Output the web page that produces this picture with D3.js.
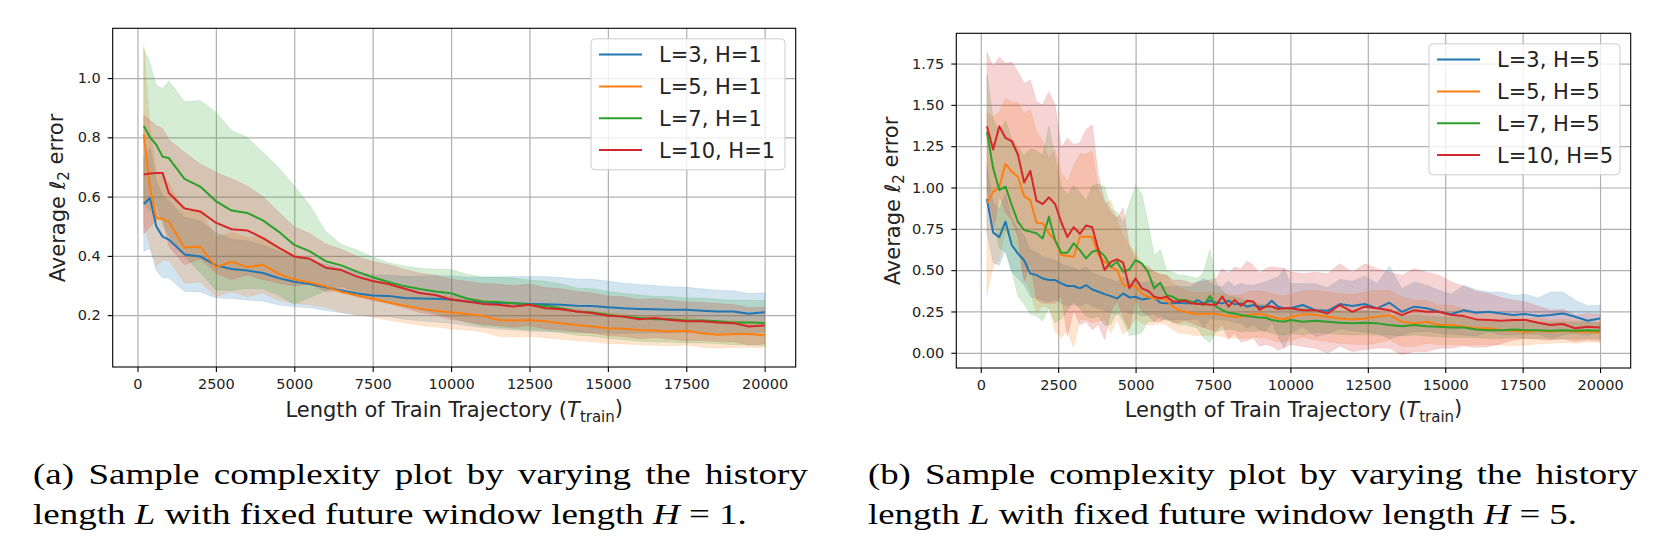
<!DOCTYPE html>
<html>
<head>
<meta charset="utf-8">
<script src="https://cdnjs.cloudflare.com/ajax/libs/d3/7.8.5/d3.min.js"></script>
<style>
  body { margin: 0; background: #fff; }
  svg { display: block; }
</style>
</head>
<body>
<div id="chart"></div>
<script>
// tick values shared by both panels
var xTicks = [0, 2500, 5000, 7500, 10000, 12500, 15000, 17500, 20000];
var yTicksLeft = [0.2, 0.4, 0.6, 0.8, 1.0];
var yTicksRight = [0, 0.25, 0.5, 0.75, 1.0, 1.25, 1.5, 1.75];
var seriesColors = ["#1f77b4", "#ff7f0e", "#2ca02c", "#d62728"];
var labelsLeft = ["L=3, H=1", "L=5, H=1", "L=7, H=1", "L=10, H=1"];
var labelsRight = ["L=3, H=5", "L=5, H=5", "L=7, H=5", "L=10, H=5"];

// (a) H = 1
var xLeft = [200, 400, 600, 800, 1000, 1500, 2000, 2500, 3000, 3500, 4000, 4500, 5000, 5500, 6000, 6500, 7000, 7500, 8000, 8500,
  9000, 9500, 10000, 10500, 11000, 11500, 12000, 12500, 13000, 13500, 14000, 14500, 15000, 15500, 16000, 16500, 17000, 17500,
  18000, 18500, 19000, 19500, 20000];
var meanL3H1 = [0.575, 0.595, 0.50, 0.465, 0.455, 0.405, 0.398, 0.368, 0.356, 0.351, 0.342, 0.325, 0.313, 0.305, 0.294, 0.283,
  0.273, 0.266, 0.265, 0.258, 0.256, 0.255, 0.253, 0.246, 0.243, 0.241, 0.240, 0.238, 0.237, 0.235, 0.232, 0.231, 0.227, 0.223,
  0.221, 0.220, 0.218, 0.218, 0.215, 0.212, 0.212, 0.205, 0.210];
var meanL5H1 = [0.81, 0.63, 0.527, 0.525, 0.515, 0.428, 0.432, 0.362, 0.38, 0.362, 0.37, 0.34, 0.32, 0.31, 0.297, 0.278, 0.266,
  0.255, 0.243, 0.232, 0.222, 0.215, 0.209, 0.204, 0.198, 0.184, 0.182, 0.184, 0.179, 0.173, 0.167, 0.162, 0.156, 0.154, 0.150,
  0.148, 0.145, 0.147, 0.139, 0.134, 0.136, 0.136, 0.132];
var meanL7H1 = [0.838, 0.80, 0.775, 0.735, 0.73, 0.66, 0.634, 0.585, 0.553, 0.545, 0.52, 0.482, 0.437, 0.415, 0.382, 0.368, 0.347,
  0.328, 0.312, 0.298, 0.288, 0.280, 0.274, 0.256, 0.246, 0.244, 0.240, 0.235, 0.231, 0.223, 0.212, 0.209, 0.201, 0.195, 0.190,
  0.186, 0.186, 0.182, 0.182, 0.179, 0.175, 0.175, 0.173];
var meanL10H1 = [0.675, 0.678, 0.68, 0.68, 0.612, 0.56, 0.55, 0.512, 0.49, 0.486, 0.46, 0.428, 0.398, 0.39, 0.36, 0.352, 0.33,
  0.315, 0.305, 0.29, 0.275, 0.268, 0.253, 0.246, 0.238, 0.235, 0.229, 0.235, 0.223, 0.220, 0.212, 0.207, 0.198, 0.195, 0.186,
  0.190, 0.184, 0.179, 0.179, 0.175, 0.173, 0.162, 0.165];
var stdL3H1 = [0.16, 0.17, 0.15, 0.14, 0.13, 0.125, 0.12, 0.11, 0.10, 0.10, 0.095, 0.09, 0.085, 0.08, 0.078, 0.075, 0.072, 0.07,
  0.07, 0.072, 0.075, 0.078, 0.08, 0.082, 0.085, 0.088, 0.09, 0.092, 0.093, 0.092, 0.09, 0.09, 0.088, 0.085, 0.082, 0.08, 0.078,
  0.076, 0.074, 0.072, 0.07, 0.068, 0.066];
var stdL5H1 = [0.3, 0.2, 0.16, 0.14, 0.13, 0.12, 0.12, 0.1, 0.1, 0.1, 0.095, 0.09, 0.08, 0.075, 0.07, 0.068, 0.065, 0.062, 0.06,
  0.058, 0.056, 0.055, 0.055, 0.054, 0.054, 0.055, 0.056, 0.056, 0.055, 0.054, 0.053, 0.052, 0.052, 0.051, 0.05, 0.05, 0.049,
  0.048, 0.047, 0.046, 0.045, 0.044, 0.043];
var stdL7H1 = [0.26, 0.25, 0.2, 0.23, 0.26, 0.26, 0.29, 0.30, 0.27, 0.255, 0.23, 0.215, 0.2, 0.155, 0.1, 0.07, 0.073, 0.068, 0.065,
  0.068, 0.07, 0.075, 0.08, 0.082, 0.083, 0.085, 0.085, 0.084, 0.083, 0.082, 0.08, 0.08, 0.079, 0.078, 0.078, 0.077, 0.077, 0.076,
  0.076, 0.075, 0.075, 0.075, 0.076];
var stdL10H1 = [0.2, 0.18, 0.16, 0.15, 0.18, 0.19, 0.16, 0.17, 0.17, 0.15, 0.14, 0.12, 0.1, 0.085, 0.08, 0.07, 0.068, 0.066, 0.065,
  0.065, 0.066, 0.067, 0.068, 0.068, 0.069, 0.07, 0.07, 0.07, 0.07, 0.069, 0.068, 0.068, 0.067, 0.067, 0.066, 0.066, 0.065, 0.065,
  0.064, 0.064, 0.063, 0.063, 0.062];

// (b) H = 5
var xRight = [200, 400, 600, 800, 1000, 1200, 1400, 1600, 1800, 2000, 2200, 2400, 2600, 2800, 3000, 3200, 3400, 3600, 3800, 4000,
  4200, 4400, 4600, 4800, 5000, 5200, 5400, 5600, 5800, 6000, 6200, 6400, 6600, 6800, 7000, 7200, 7400, 7600, 7800, 8000,
  8200, 8400, 8600, 8800, 9000, 9200, 9400, 9600, 9800, 10000, 10400, 10800, 11200, 11600, 12000, 12400, 12800, 13200, 13600,
  14000, 14400, 14800, 15200, 15600, 16000, 16400, 16800, 17200, 17600, 18000, 18400, 18800, 19200, 19600, 20000];
var meanL3H5 = [0.93, 0.727, 0.70, 0.793, 0.652, 0.60, 0.56, 0.48, 0.47, 0.45, 0.44, 0.44, 0.42, 0.404, 0.404, 0.39, 0.41, 0.383,
  0.369, 0.355, 0.343, 0.329, 0.359, 0.335, 0.339, 0.323, 0.329, 0.335, 0.303, 0.299, 0.299, 0.303, 0.299, 0.299, 0.319, 0.299,
  0.315, 0.303, 0.299, 0.315, 0.293, 0.299, 0.279, 0.289, 0.279, 0.279, 0.315, 0.279, 0.269, 0.27, 0.289, 0.258, 0.254, 0.295,
  0.283, 0.295, 0.269, 0.303, 0.248, 0.279, 0.269, 0.248, 0.234, 0.258, 0.242, 0.248, 0.238, 0.228, 0.234, 0.222, 0.228, 0.238,
  0.218, 0.194, 0.208];
var meanL5H5 = [0.904, 0.975, 1.005, 1.142, 1.096, 1.065, 0.948, 0.924, 0.787, 0.783, 0.723, 0.682, 0.591, 0.585, 0.581, 0.702,
  0.702, 0.702, 0.591, 0.551, 0.521, 0.5, 0.41, 0.40, 0.404, 0.359, 0.339, 0.329, 0.329, 0.319, 0.279, 0.258, 0.248, 0.238, 0.234,
  0.234, 0.238, 0.234, 0.228, 0.222, 0.218, 0.218, 0.228, 0.234, 0.234, 0.228, 0.218, 0.208, 0.205, 0.215, 0.234, 0.228, 0.218,
  0.208, 0.202, 0.208, 0.218, 0.228, 0.188, 0.178, 0.188, 0.168, 0.168, 0.157, 0.148, 0.148, 0.137, 0.133, 0.127, 0.133, 0.127,
  0.133, 0.127, 0.127, 0.121];
var meanL7H5 = [1.338, 1.116, 0.985, 1.005, 0.894, 0.793, 0.743, 0.733, 0.723, 0.692, 0.823, 0.682, 0.605, 0.605, 0.662, 0.621,
  0.571, 0.611, 0.621, 0.585, 0.521, 0.551, 0.49, 0.504, 0.561, 0.541, 0.49, 0.39, 0.424, 0.349, 0.339, 0.319, 0.319, 0.309, 0.299,
  0.289, 0.343, 0.279, 0.258, 0.242, 0.238, 0.228, 0.222, 0.218, 0.214, 0.212, 0.198, 0.192, 0.188, 0.198, 0.188, 0.194, 0.188,
  0.182, 0.178, 0.182, 0.178, 0.168, 0.161, 0.168, 0.161, 0.157, 0.153, 0.153, 0.141, 0.137, 0.137, 0.141, 0.137, 0.137, 0.133,
  0.137, 0.133, 0.137, 0.133];
var meanL10H5 = [1.37, 1.23, 1.37, 1.30, 1.28, 1.20, 1.03, 1.10, 0.92, 0.90, 0.94, 0.90, 0.79, 0.70, 0.76, 0.72, 0.77, 0.76, 0.62,
  0.50, 0.55, 0.565, 0.545, 0.39, 0.45, 0.39, 0.375, 0.34, 0.33, 0.34, 0.31, 0.31, 0.315, 0.30, 0.295, 0.295, 0.29, 0.29, 0.34,
  0.28, 0.32, 0.285, 0.315, 0.31, 0.26, 0.28, 0.28, 0.265, 0.27, 0.27, 0.258, 0.258, 0.238, 0.289, 0.248, 0.279, 0.269, 0.258,
  0.228, 0.258, 0.248, 0.248, 0.228, 0.222, 0.202, 0.198, 0.194, 0.198, 0.198, 0.182, 0.168, 0.174, 0.148, 0.157, 0.153];
var stdL3H5 = [0.2, 0.18, 0.17, 0.17, 0.16, 0.15, 0.15, 0.14, 0.14, 0.13, 0.13, 0.12, 0.12, 0.12, 0.11, 0.11, 0.11, 0.1, 0.1, 0.1,
  0.1, 0.1, 0.1, 0.1, 0.1, 0.1, 0.1, 0.1, 0.1, 0.1, 0.1, 0.1, 0.1, 0.1, 0.11, 0.15, 0.11, 0.1, 0.1, 0.12, 0.11, 0.12, 0.13, 0.12,
  0.14, 0.15, 0.13, 0.18, 0.24, 0.15, 0.13, 0.16, 0.14, 0.15, 0.15, 0.17, 0.15, 0.22, 0.14, 0.15, 0.14, 0.13, 0.12, 0.15, 0.14,
  0.12, 0.13, 0.12, 0.12, 0.11, 0.14, 0.13, 0.1, 0.09, 0.08];
var stdL5H5 = [0.55, 0.45, 0.45, 0.4, 0.42, 0.45, 0.5, 0.55, 0.55, 0.5, 0.45, 0.55, 0.5, 0.45, 0.55, 0.5, 0.5, 0.52, 0.4, 0.35,
  0.4, 0.3, 0.3, 0.25, 0.2, 0.18, 0.17, 0.16, 0.15, 0.15, 0.14, 0.14, 0.13, 0.13, 0.13, 0.13, 0.13, 0.13, 0.13, 0.13, 0.13, 0.13,
  0.14, 0.14, 0.14, 0.14, 0.14, 0.14, 0.14, 0.14, 0.14, 0.15, 0.15, 0.15, 0.15, 0.16, 0.16, 0.15, 0.15, 0.14, 0.13, 0.12, 0.12,
  0.11, 0.1, 0.1, 0.09, 0.09, 0.08, 0.08, 0.07, 0.07, 0.07, 0.06, 0.06];
var stdL7H5 = [0.35, 0.3, 0.35, 0.4, 0.4, 0.45, 0.45, 0.5, 0.5, 0.5, 0.55, 0.5, 0.4, 0.35, 0.35, 0.35, 0.35, 0.4, 0.4, 0.42,
  0.35, 0.3, 0.3, 0.4, 0.45, 0.42, 0.3, 0.2, 0.2, 0.15, 0.15, 0.15, 0.15, 0.15, 0.15, 0.2, 0.28, 0.15, 0.12, 0.1, 0.1, 0.1, 0.09,
  0.09, 0.08, 0.08, 0.08, 0.08, 0.08, 0.08, 0.08, 0.07, 0.07, 0.07, 0.07, 0.07, 0.07, 0.06, 0.06, 0.06, 0.06, 0.06, 0.06, 0.06,
  0.05, 0.05, 0.05, 0.05, 0.05, 0.05, 0.05, 0.05, 0.05, 0.05, 0.05];
var stdL10H5 = [0.45, 0.5, 0.42, 0.45, 0.48, 0.5, 0.6, 0.55, 0.6, 0.6, 0.64, 0.6, 0.45, 0.6, 0.5, 0.55, 0.58, 0.62, 0.45, 0.42,
  0.3, 0.25, 0.33, 0.25, 0.12, 0.14, 0.15, 0.15, 0.14, 0.13, 0.13, 0.13, 0.12, 0.12, 0.13, 0.14, 0.15, 0.16, 0.17, 0.2, 0.2, 0.22,
  0.24, 0.22, 0.22, 0.23, 0.24, 0.25, 0.24, 0.22, 0.22, 0.23, 0.24, 0.25, 0.24, 0.26, 0.24, 0.23, 0.24, 0.25, 0.24, 0.22, 0.2,
  0.18, 0.17, 0.16, 0.14, 0.12, 0.11, 0.1, 0.09, 0.09, 0.08, 0.08, 0.08];

var svg = d3.select("#chart").append("svg")
  .attr("width", 1666)
  .attr("height", 546)
  .style("background", "#fff");

var tickFont = "'DejaVu Sans', sans-serif";
var capFont = "'Liberation Serif', 'Times New Roman', serif";

function drawPanel(p) {
  var x = d3.scaleLinear().domain([-790, 20990]).range([p.left, p.right]);
  var y = d3.scaleLinear().domain(p.yDomain).range([p.bottom, p.top]);
  var w = p.right - p.left;
  var h = p.bottom - p.top;
  var g = svg.append("g");

  g.append("clipPath").attr("id", "clip-" + p.id)
    .append("rect").attr("x", p.left).attr("y", p.top).attr("width", w).attr("height", h);

  // grid lines
  var xGrid = g.append("g").attr("transform", "translate(0," + p.bottom + ")")
    .call(d3.axisBottom(x).tickValues(xTicks).tickSize(-h).tickFormat(""));
  var yGrid = g.append("g").attr("transform", "translate(" + p.left + ",0)")
    .call(d3.axisLeft(y).tickValues(p.yTicks).tickSize(-w).tickFormat(""));
  [xGrid, yGrid].forEach(function (a) {
    a.select(".domain").remove();
    a.selectAll("line").attr("stroke", "#b0b0b0").attr("stroke-width", 1.2);
  });

  // shaded bands below all lines, like matplotlib z-order
  var plot = g.append("g").attr("clip-path", "url(#clip-" + p.id + ")");
  p.means.forEach(function (m, k) {
    var area = d3.area()
      .x(function (d, i) { return x(p.xs[i]); })
      .y0(function (d, i) { return y(d - p.stds[k][i]); })
      .y1(function (d, i) { return y(d + p.stds[k][i]); });
    plot.append("path").datum(m)
      .attr("d", area)
      .attr("fill", seriesColors[k])
      .attr("fill-opacity", 0.2)
      .attr("stroke", seriesColors[k])
      .attr("stroke-opacity", 0.12)
      .attr("stroke-width", 1);
  });
  p.means.forEach(function (m, k) {
    var line = d3.line()
      .x(function (d, i) { return x(p.xs[i]); })
      .y(function (d) { return y(d); });
    plot.append("path").datum(m)
      .attr("d", line)
      .attr("fill", "none")
      .attr("stroke", seriesColors[k])
      .attr("stroke-width", 2)
      .attr("stroke-linejoin", "round");
  });

  // axes with ticks and labels
  var xAxis = g.append("g").attr("transform", "translate(0," + p.bottom + ")")
    .call(d3.axisBottom(x).tickValues(xTicks).tickSize(5).tickPadding(7).tickFormat(d3.format("d")));
  var yAxis = g.append("g").attr("transform", "translate(" + p.left + ",0)")
    .call(d3.axisLeft(y).tickValues(p.yTicks).tickSize(5).tickPadding(7).tickFormat(d3.format(p.yFmt)));
  [xAxis, yAxis].forEach(function (a) {
    a.select(".domain").remove();
    a.selectAll("line").attr("stroke", "#000").attr("stroke-width", 1.1);
    a.selectAll("text").attr("fill", "#222").style("font-family", tickFont).style("font-size", "14.5px");
  });

  // frame
  g.append("rect")
    .attr("x", p.left).attr("y", p.top).attr("width", w).attr("height", h)
    .attr("fill", "none").attr("stroke", "#000").attr("stroke-width", 1.1);

  // y axis label
  var yl = g.append("text")
    .attr("transform", "translate(" + p.ylabX + "," + p.ylabY + ") rotate(-90)")
    .attr("text-anchor", "middle")
    .attr("fill", "#222")
    .style("font-family", tickFont)
    .style("font-size", "21px");
  yl.append("tspan").text("Average ");
  yl.append("tspan").style("font-style", "italic").text("\u2113");
  yl.append("tspan").attr("dy", "0.28em").style("font-size", "15px").text("2");
  yl.append("tspan").attr("dy", "-0.28em").text(" error");

  // x axis label
  var xl = g.append("text")
    .attr("x", (p.left + p.right) / 2)
    .attr("y", p.xlabY)
    .attr("text-anchor", "middle")
    .attr("fill", "#222")
    .style("font-family", tickFont)
    .style("font-size", "21px");
  xl.append("tspan").text("Length of Train Trajectory (");
  xl.append("tspan").style("font-style", "italic").text("T");
  xl.append("tspan").attr("dy", "0.3em").style("font-size", "15px").text("train");
  xl.append("tspan").attr("dy", "-0.3em").text(")");

  // legend
  var lg = g.append("g");
  var bx = p.right - 10.7 - p.legendW;
  var by = p.top + 10.5;
  lg.append("rect")
    .attr("x", bx).attr("y", by).attr("width", p.legendW).attr("height", 131)
    .attr("rx", 4)
    .attr("fill", "#fff").attr("fill-opacity", 0.8)
    .attr("stroke", "#cccccc").attr("stroke-width", 1);
  p.labels.forEach(function (lab, k) {
    var ry = by + 15.8 + k * 31.8;
    lg.append("line")
      .attr("x1", bx + 8).attr("x2", bx + 51)
      .attr("y1", ry).attr("y2", ry)
      .attr("stroke", seriesColors[k]).attr("stroke-width", 2);
    lg.append("text")
      .attr("x", bx + 68).attr("y", ry).attr("dy", "0.36em")
      .attr("fill", "#222")
      .style("font-family", tickFont)
      .style("font-size", "21px")
      .text(lab);
  });

  drawCaption(p);
}

// Caption: Times glyphs widened a little to get the Computer Modern width,
// first line justified through word spacing
function drawCaption(p) {
  var c1 = svg.append("text")
    .attr("x", 0).attr("y", 0)
    .style("font-family", capFont).style("font-size", "30px")
    .text(p.caption1);
  var c2 = svg.append("text")
    .attr("x", 0).attr("y", 0)
    .style("font-family", capFont).style("font-size", "30px");
  c2.append("tspan").text("length ");
  c2.append("tspan").style("font-style", "italic").text("L");
  c2.append("tspan").text(" with fixed future window length ");
  c2.append("tspan").style("font-style", "italic").text("H");
  c2.append("tspan").text(" = " + p.hValue + ".");

  var w2 = c2.node().getComputedTextLength();
  var s = p.capW2 / w2;
  c2.attr("transform", "translate(" + p.capX + ",524) scale(" + s + ",1)");

  var w1 = c1.node().getComputedTextLength();
  var gaps = p.caption1.split(" ").length - 1;
  var extra = (p.capW1 / s - w1) / gaps;
  c1.style("word-spacing", Math.max(0, extra) + "px")
    .attr("transform", "translate(" + p.capX + ",484) scale(" + s + ",1)");
}

drawPanel({
  id: "a", left: 112.7, right: 795.7, top: 28.3, bottom: 367,
  yDomain: [0.025, 1.168], yTicks: yTicksLeft, yFmt: ".1f",
  xs: xLeft,
  means: [meanL3H1, meanL5H1, meanL7H1, meanL10H1],
  stds: [stdL3H1, stdL5H1, stdL7H1, stdL10H1],
  labels: labelsLeft, legendW: 194,
  ylabX: 65, ylabY: 198, xlabY: 417,
  capX: 33, capW1: 775, capW2: 714,
  caption1: "(a) Sample complexity plot by varying the history", hValue: "1"
});

drawPanel({
  id: "b", left: 956.3, right: 1630.7, top: 33.3, bottom: 368,
  yDomain: [-0.092, 1.933], yTicks: yTicksRight, yFmt: ".2f",
  xs: xRight,
  means: [meanL3H5, meanL5H5, meanL7H5, meanL10H5],
  stds: [stdL3H5, stdL5H5, stdL7H5, stdL10H5],
  labels: labelsRight, legendW: 191,
  ylabX: 900, ylabY: 201, xlabY: 417,
  capX: 868, capW1: 770, capW2: 709,
  caption1: "(b) Sample complexity plot by varying the history", hValue: "5"
});
</script>
</body>
</html>
